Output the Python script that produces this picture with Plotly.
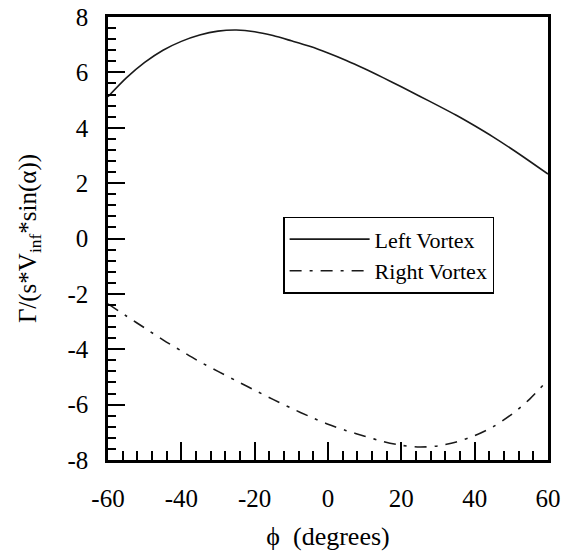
import plotly.graph_objects as go

# Normalised vortex circulation vs. roll angle
phi_deg = [-60, -55, -50, -45, -40, -35, -30, -25, -20, -15, -10, -5, 0,
           5, 10, 15, 20, 25, 30, 35, 40, 45, 50, 55, 60]
left_vortex = [5.12, 5.80, 6.36, 6.80, 7.12, 7.35, 7.49, 7.53, 7.47, 7.33,
               7.14, 6.94, 6.70, 6.43, 6.13, 5.81, 5.48, 5.14, 4.80, 4.45,
               4.07, 3.67, 3.24, 2.79, 2.33]
right_vortex = [-2.36, -2.80, -3.23, -3.66, -4.06, -4.45, -4.80, -5.14, -5.48,
                -5.81, -6.13, -6.43, -6.71, -6.94, -7.14, -7.33, -7.47, -7.53,
                -7.49, -7.35, -7.12, -6.80, -6.36, -5.80, -5.10]

x_ticks = [-60, -40, -20, 0, 20, 40, 60]
x_tick_labels = ["-60", "-40", "-20", "0", "20", "40", "60"]
y_ticks = [-8, -6, -4, -2, 0, 2, 4, 6, 8]
y_tick_labels = ["-8", "-6", "-4", "-2", "0", "2", "4", "6", "8"]

FONT = "Liberation Serif"

fig = go.Figure()
fig.add_trace(go.Scatter(
    x=phi_deg, y=left_vortex, mode="lines", name="Left Vortex",
    line=dict(color="#1a1a1a", width=1.6, shape="spline", smoothing=0.8),
))
fig.add_trace(go.Scatter(
    x=phi_deg, y=right_vortex, mode="lines", name="Right Vortex",
    line=dict(color="#1a1a1a", width=1.6, shape="spline", smoothing=0.8,
              dash="12px,8px,3px,8px"),
))

axis_common = dict(
    showline=True, linecolor="black", linewidth=2.5, mirror=True,
    ticks="inside", tickcolor="black", tickwidth=1.8,
    showgrid=False, zeroline=False, automargin=False,
    tickfont=dict(family=FONT, size=25, color="black"),
)

fig.update_xaxes(
    range=[-60, 60], tickvals=x_ticks, ticktext=x_tick_labels, ticklen=18,
    ticklabelstandoff=14,
    minor=dict(dtick=4, tick0=-60, ticks="inside", ticklen=9,
               tickwidth=1.6, tickcolor="black"),
    title=dict(text="\u03d5  (degrees)",
               font=dict(family=FONT, size=26, color="black"), standoff=17),
    **axis_common,
)
fig.update_yaxes(
    range=[-8, 8], tickvals=y_ticks, ticktext=y_tick_labels, ticklen=17,
    ticklabelstandoff=12,
    minor=dict(dtick=0.4, tick0=0, ticks="inside", ticklen=8,
               tickwidth=1.6, tickcolor="black"),
    title=dict(text="\u0393/(s*V<sub>inf</sub>*sin(\u03b1))",
               font=dict(family=FONT, size=25, color="black"), standoff=24),
    **axis_common,
)

fig.update_layout(
    width=563, height=559,
    margin=dict(l=108, r=15, t=17, b=99),
    paper_bgcolor="white", plot_bgcolor="white",
    font=dict(family=FONT, color="black"),
    legend=dict(
        x=0.398, y=0.549, xanchor="left", yanchor="top",
        bordercolor="black", borderwidth=1.5, bgcolor="white",
        font=dict(family=FONT, size=22, color="black"),
        itemwidth=80, tracegroupgap=0,
    ),
    showlegend=True,
)

fig.write_html("out.html")
